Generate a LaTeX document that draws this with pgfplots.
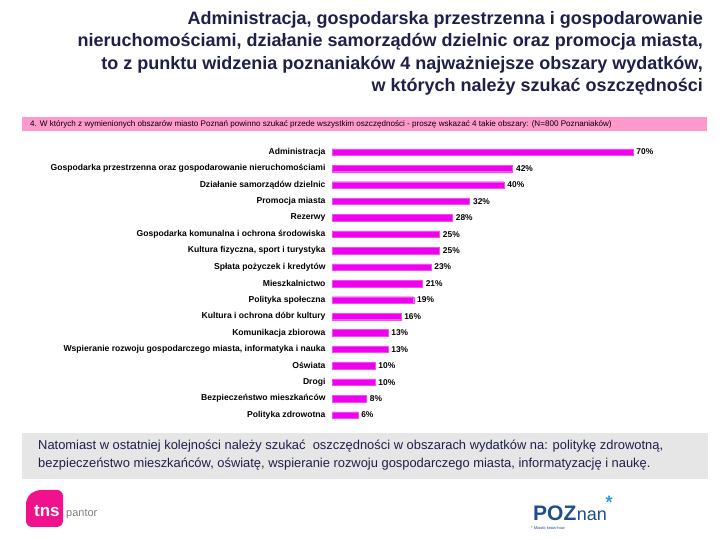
\documentclass[border=0pt]{standalone}
\usepackage{pgfplots}
\pgfplotsset{compat=1.18}
\usepackage{fontspec}
\setmainfont{Liberation Sans}
\definecolor{navy}{HTML}{1F1F4A}
\definecolor{barmag}{HTML}{F000F0}
\definecolor{pinkband}{HTML}{FF99CC}
\definecolor{graybox}{HTML}{E6E6E6}
\definecolor{tnsmag}{HTML}{F0128C}
\definecolor{pozblue}{HTML}{1F4E8C}
\definecolor{pozstar}{HTML}{1FA0E0}
\begin{document}
\begin{tikzpicture}
\path[use as bounding box, fill=white] (0,0) rectangle (720pt,540pt);
% title
\node[anchor=north east, align=right, text=navy, font=\fontsize{18}{22.5}\selectfont\bfseries, inner sep=0pt] at (703pt,540pt-11pt)
{Administracja, gospodarska przestrzenna i gospodarowanie\\
nieruchomościami, działanie samorządów dzielnic oraz promocja miasta,\\
to z punktu widzenia poznaniaków 4 najważniejsze obszary wydatków,\\
w których należy szukać oszczędności};
% pink band
\fill[pinkband] (22pt,540pt-117pt) rectangle (707pt,540pt-131pt);
\node[anchor=west, font=\fontsize{8.1}{8.5}\selectfont, inner sep=0pt] at (30pt,540pt-124pt)
{4. W których z wymienionych obszarów miasto Poznań powinno szukać przede wszystkim oszczędności - proszę wskazać 4 takie obszary: (N=800 Poznaniaków)};
% chart
\begin{axis}[
  at={(332pt,540pt-423.3pt)}, anchor=south west,
  scale only axis, width=344pt, height=279.5pt,
  xbar, bar width=6.5pt,
  xmin=0, xmax=80, ymin=-0.5, ymax=16.5, y dir=reverse,
  hide x axis,
  axis y line*=left, y axis line style={draw=none},
  ytick={0,...,16},
  yticklabels={Administracja,
    Gospodarka przestrzenna oraz gospodarowanie nieruchomościami,
    Działanie samorządów dzielnic,
    Promocja miasta,
    Rezerwy,
    Gospodarka komunalna i ochrona środowiska,
    {Kultura fizyczna, sport i turystyka},
    Spłata pożyczek i kredytów,
    Mieszkalnictwo,
    Polityka społeczna,
    Kultura i ochrona dóbr kultury,
    Komunikacja zbiorowa,
    {Wspieranie rozwoju gospodarczego miasta, informatyka i nauka},
    Oświata,
    Drogi,
    Bezpieczeństwo mieszkańców,
    Polityka zdrowotna},
  yticklabel style={font=\fontsize{8.6}{9}\selectfont\bfseries, xshift=-3pt},
  major tick length=0pt,
  /pgf/number format/assume math mode=true,
  nodes near coords={\pgfmathprintnumber{\pgfplotspointmeta}\%},
  nodes near coords style={font=\fontsize{8.4}{9}\selectfont\bfseries, anchor=west, xshift=0pt},
  point meta=x,
  clip=false,
]
\addplot[fill=barmag, draw=barmag!70!white, line width=0.3pt] coordinates {
(70,0) (42,1) (40,2) (32,3) (28,4) (25,5) (25,6) (23,7) (21,8) (19,9)
(16,10) (13,11) (13,12) (10,13) (10,14) (8,15) (6,16)};
\end{axis}
% gray box
\fill[graybox] (22pt,540pt-433pt) rectangle (708pt,540pt-479pt);
\node[anchor=north west, align=left, text=navy, font=\fontsize{12.9}{18}\selectfont, inner sep=0pt] at (38pt,540pt-440pt)
{Natomiast w ostatniej kolejności należy szukać\ \ oszczędności w obszarach wydatków na: politykę zdrowotną,\\
bezpieczeństwo mieszkańców, oświatę, wspieranie rozwoju gospodarczego miasta, informatyzację i naukę.};
% tns logo
\fill[tnsmag, rounded corners=6pt] (26pt,540pt-498pt) -- (26pt,540pt-527pt) -- (63pt,540pt-527pt) -- (63pt,540pt-490pt) -- (35pt,540pt-490pt) -- cycle;
\node[anchor=base west, text=white, font=\fontsize{17}{17}\selectfont\bfseries, inner sep=0pt] at (34pt,540pt-517pt) {tns};
\node[anchor=base west, text=gray, font=\fontsize{11}{11}\selectfont, inner sep=0pt] at (66pt,540pt-517pt) {pantor};
% poznan logo
\node[anchor=base west, text=pozblue, font=\fontsize{21}{21}\selectfont\bfseries, inner sep=0pt] (poz) at (533pt,540pt-521pt) {POZ};
\node[anchor=base west, text=pozblue, font=\fontsize{18}{18}\selectfont, inner sep=0pt] (nan) at (poz.base east) {nan};
\node[text=pozstar, font=\fontsize{18}{18}\selectfont\bfseries, inner sep=0pt] at ([xshift=2pt,yshift=14pt]nan.east) {*};
\node[anchor=base west, text=pozblue, font=\fontsize{4}{4}\selectfont, inner sep=0pt] at (531pt,540pt-530pt) {* Miasto know-how};
\end{tikzpicture}
\end{document}
